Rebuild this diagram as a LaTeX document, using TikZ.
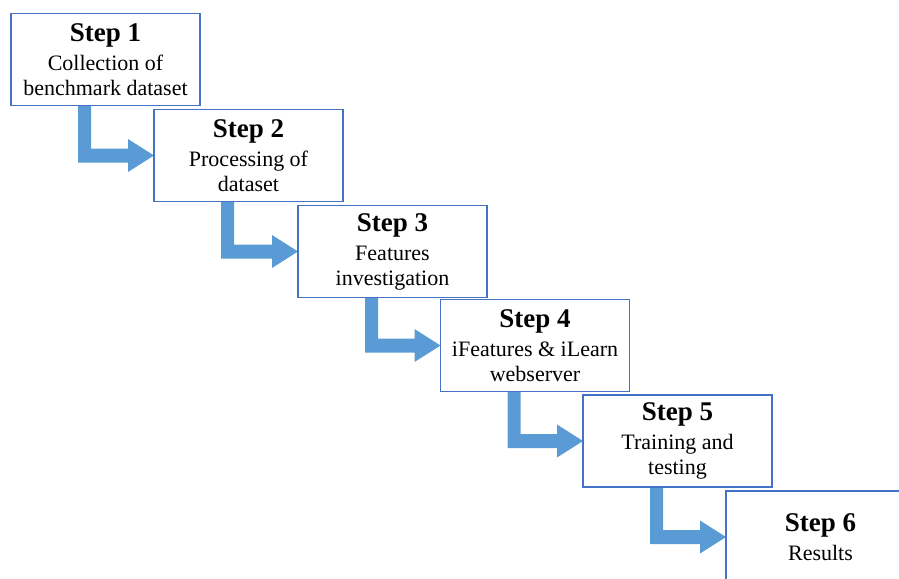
\documentclass[tikz,border=0pt]{standalone}
\usepackage{fontspec}
\setmainfont{Liberation Serif}
\usetikzlibrary{calc}
\pgfdeclarelayer{bg}
\pgfsetlayers{bg,main}
\definecolor{boxblue}{HTML}{4472C4}
\definecolor{arrblue}{HTML}{5B9BD5}
\begin{document}
\begin{tikzpicture}[x=1pt,y=-1pt,
  stepbox/.style={draw=boxblue, line width=1.8pt, fill=white, rectangle,
    minimum width=189pt, minimum height=92pt, inner sep=0pt, outer sep=0pt,
    align=center, font=\fontsize{22}{25}\selectfont},
  arr/.style={fill=arrblue}]
\useasboundingbox (0,0) rectangle (899,578);
\clip (0,0) rectangle (899,578);
\newcommand{\steptitle}[1]{{\fontsize{27}{29}\selectfont\bfseries Step #1}\\[4pt]}
\node[stepbox] (b1) at (105.5,59.5) {\steptitle{1}Collection of\\ benchmark dataset};
\node[stepbox] (b2) at (248.5,155.5) {\steptitle{2}Processing of\\ dataset};
\node[stepbox] (b3) at (392.5,251.5) {\steptitle{3}Features\\ investigation};
\node[stepbox] (b4) at (535,345.5) {\steptitle{4}iFeatures \& iLearn\\ webserver};
\node[stepbox] (b5) at (677.5,441) {\steptitle{5}Training and\\ testing};
\node[stepbox] (b6) at (820.5,537) {\steptitle{6}Results};
\begin{pgfonlayer}{bg}
\foreach \a/\b in {b1/b2,b2/b3,b3/b4,b4/b5,b5/b6}{
  \fill[arr] ($(\a.south west)+(67pt,0pt)$) |- ($(\b.west)+(-26pt,-7pt)$)
    -- ($(\b.west)+(-26pt,-16.5pt)$) -- (\b.west) -- ($(\b.west)+(-26pt,16.5pt)$)
    -- ($(\b.west)+(-26pt,7pt)$) -| ($(\a.south west)+(80pt,0pt)$) -- cycle;
}
\end{pgfonlayer}
\end{tikzpicture}
\end{document}
